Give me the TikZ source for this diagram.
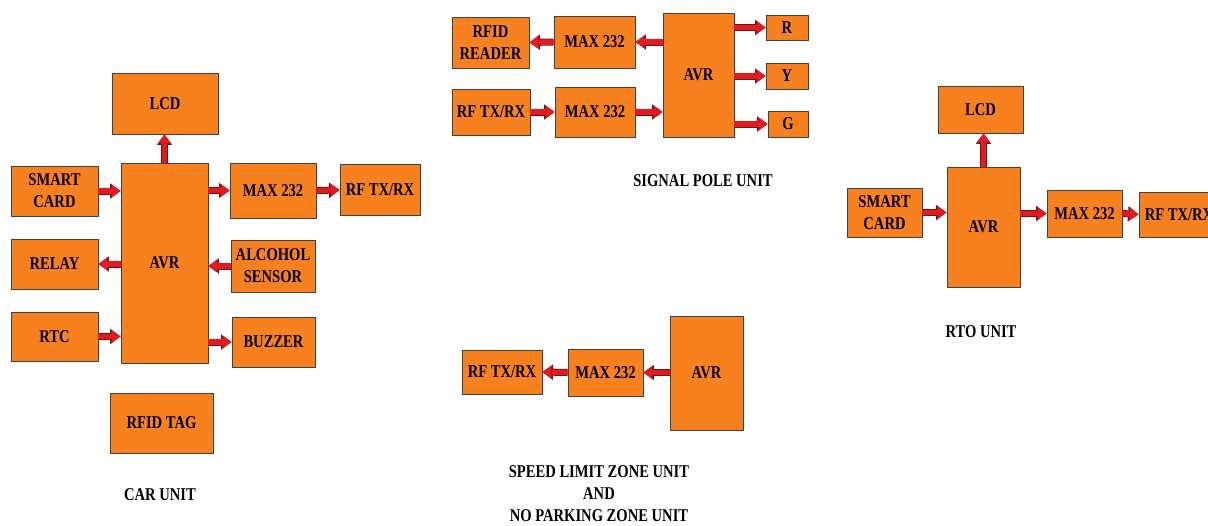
\documentclass[tikz,border=0pt]{standalone}
\usepackage{fontspec}
\setmainfont[FakeStretch=0.81]{Liberation Serif}
\usepackage{tikz}
\usetikzlibrary{arrows.meta}
\definecolor{boxorange}{HTML}{F7811F}
\definecolor{arrowred}{HTML}{E11B22}
\definecolor{arrowedge}{HTML}{7A1010}

\begin{document}
\begin{tikzpicture}[x=1pt, y=-1pt, font=\bfseries\fontsize{18}{22}\selectfont,
    blk/.style={draw=black!75, line width=0.9pt, fill=boxorange, align=center, inner sep=1pt},
    fat/.style={draw=arrowred, line width=5.5pt,
      -{Triangle[length=9pt, width=13pt, line width=0pt]},
      preaction={draw=arrowedge, line width=7pt,
        -{Triangle[length=10.5pt, width=15.5pt, line width=0pt]}}}]
      \path[fill=white, use as bounding box] (0,0) rectangle (1208,525);

      % car unit
      \node[blk, minimum width=106pt, minimum height=61pt] (lcdA) at (165,103.5) {LCD};
      \node[blk, minimum width=87pt, minimum height=200pt] (avrA) at (164.5,263) {AVR};
      \node[blk, minimum width=87pt, minimum height=50pt] (cardA) at (54.5,191) {SMART\\CARD};
      \node[blk, minimum width=87pt, minimum height=50pt] (relayA) at (54.5,264) {RELAY};
      \node[blk, minimum width=87pt, minimum height=49pt] (rtcA) at (54.5,336.5) {RTC};
      \node[blk, minimum width=86pt, minimum height=55pt] (maxA) at (273,190.5) {MAX 232};
      \node[blk, minimum width=80pt, minimum height=51pt] (rfA) at (380,190) {RF TX/RX};
      \node[blk, minimum width=84pt, minimum height=52pt] (alcA) at (273,266) {ALCOHOL\\SENSOR};
      \node[blk, minimum width=83pt, minimum height=50pt] (buzA) at (273.5,342) {BUZZER};
      \node[blk, minimum width=103pt, minimum height=60pt] (tagA) at (161.5,423) {RFID TAG};
      \node (carLbl) at (160,495) {CAR UNIT};

      \draw[fat] (avrA.north) -- (avrA.north |- lcdA.south);
      \draw[fat] (cardA.east) -- (cardA.east -| avrA.west);
      \draw[fat] (relayA.east -| avrA.west) -- (relayA.east);
      \draw[fat] (rtcA.east) -- (rtcA.east -| avrA.west);
      \draw[fat] (maxA.west -| avrA.east) -- (maxA.west);
      \draw[fat] (maxA.east) -- (rfA.west);
      \draw[fat] (alcA.west) -- (alcA.west -| avrA.east);
      \draw[fat] (buzA.west -| avrA.east) -- (buzA.west);

      % signal pole unit
      \node[blk, minimum width=77pt, minimum height=51pt] (readerB) at (490.5,42.5) {RFID\\READER};
      \node[blk, minimum width=81pt, minimum height=52pt] (maxB1) at (594.5,42) {MAX 232};
      \node[blk, minimum width=78pt, minimum height=46pt] (rfB) at (491,112) {RF TX/RX};
      \node[blk, minimum width=80pt, minimum height=50pt] (maxB2) at (595,112) {MAX 232};
      \node[blk, minimum width=71pt, minimum height=124pt] (avrB) at (698.5,75) {AVR};
      \node[blk, minimum width=42pt, minimum height=25pt] (rB) at (787,27.5) {R};
      \node[blk, minimum width=42pt, minimum height=26pt] (yB) at (787,76) {Y};
      \node[blk, minimum width=40pt, minimum height=26pt] (gB) at (788,124) {G};
      \node (poleLbl) at (703,181) {SIGNAL POLE UNIT};

      \draw[fat] (maxB1.east -| avrB.west) -- (maxB1.east);
      \draw[fat] (maxB1.west) -- (readerB.east);
      \draw[fat] (rfB.east) -- (maxB2.west);
      \draw[fat] (maxB2.east) -- (maxB2.east -| avrB.west);
      \draw[fat] (rB.west -| avrB.east) -- (rB.west);
      \draw[fat] (yB.west -| avrB.east) -- (yB.west);
      \draw[fat] (gB.west -| avrB.east) -- (gB.west);

      % rto unit
      \node[blk, minimum width=85pt, minimum height=47pt] (lcdC) at (980.5,109.5) {LCD};
      \node[blk, minimum width=73pt, minimum height=120pt] (avrC) at (983.5,227) {AVR};
      \node[blk, minimum width=75pt, minimum height=49pt] (cardC) at (884.5,212.5) {SMART\\CARD};
      \node[blk, minimum width=75pt, minimum height=47pt] (maxC) at (1084.5,213.5) {MAX 232};
      \node[blk, minimum width=80pt, minimum height=45pt] (rfC) at (1179,214.5) {RF TX/RX};
      \node (rtoLbl) at (981,332) {RTO UNIT};

      \draw[fat] (avrC.north) -- (avrC.north |- lcdC.south);
      \draw[fat] (cardC.east) -- (cardC.east -| avrC.west);
      \draw[fat] (maxC.west -| avrC.east) -- (maxC.west);
      \draw[fat] (maxC.east) -- (rfC.west);

      % speed limit / no parking unit
      \node[blk, minimum width=80pt, minimum height=44pt] (rfD) at (502,372) {RF TX/RX};
      \node[blk, minimum width=75pt, minimum height=47pt] (maxD) at (605.5,372.5) {MAX 232};
      \node[blk, minimum width=73pt, minimum height=114pt] (avrD) at (706.5,373) {AVR};
      \node[align=center] (zoneLbl) at (599,494) {SPEED LIMIT ZONE UNIT\\AND\\NO PARKING ZONE UNIT};

      \draw[fat] (maxD.east -| avrD.west) -- (maxD.east);
      \draw[fat] (maxD.west) -- (rfD.east);
\end{tikzpicture}
\end{document}
